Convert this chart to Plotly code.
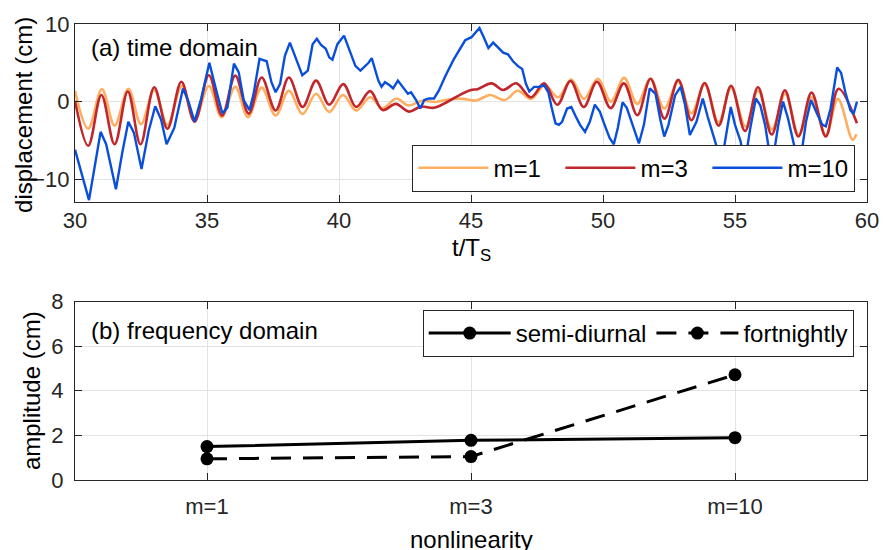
import plotly.graph_objects as go

# ---------------- data: (a) time domain ----------------
t_m1 = [30.0, 30.5, 31.02, 31.5, 32.02, 32.5, 33.0, 33.5, 34.05, 34.52, 35.07, 35.55, 36.07,
        36.55, 37.07, 37.6, 38.1, 38.62, 39.13, 39.63, 40.15, 40.65, 41.18, 41.65, 42.17,
        42.63, 43.15, 43.65, 44.2, 44.7, 45.2, 45.72, 46.28, 46.77, 47.27, 47.8, 48.3, 48.8,
        49.28, 49.8, 50.3, 50.8, 51.3, 51.8, 52.32, 52.85, 53.35, 53.85, 54.38, 54.85, 55.4,
        55.87, 56.4, 56.9, 57.42, 57.9, 58.44, 58.9, 59.45, 59.6]
v_m1 = [1.4, -3.5, 1.6, -3.1, 1.65, -2.9, 1.5, -3.0, 2.0, -2.4, 2.0, -2.0, 1.9,
        -2.0, 1.8, -1.8, 1.4, -1.6, 1.0, -1.35, 0.85, -1.15, 0.55, -0.85, 0.4,
        -0.5, 0.1, -0.05, 0.3, 0.35, 0.15, 0.85, 0.2, 1.4, 0.35, 2.1, 0.55, 2.85,
        0.35, 2.95, 0.0, 3.05, -0.3, 2.95, -0.9, 2.6, -1.5, 2.2, -2.7, 1.8, -3.2,
        1.4, -3.6, 1.0, -4.3, 0.55, -4.3, 0.35, -4.9, -4.2]

t_m3 = [30.0, 30.5, 31.0, 31.5, 32.0, 32.48, 33.0, 33.5, 34.03, 34.53, 35.07, 35.57, 36.07,
        36.58, 37.07, 37.6, 38.1, 38.62, 39.13, 39.63, 40.16, 40.65, 41.18, 41.65, 42.15,
        42.65, 43.1, 43.6, 44.1, 44.6, 45.0, 45.25, 45.78, 46.22, 46.72, 47.27, 47.77, 48.27,
        48.77, 49.27, 49.77, 50.29, 50.79, 51.3, 51.8, 52.33, 52.85, 53.35, 53.85, 54.38,
        54.85, 55.38, 55.87, 56.39, 56.89, 57.4, 57.9, 58.44, 58.92, 59.62]
v_m3 = [0.1, -5.7, 0.85, -5.5, 1.3, -5.5, 1.85, -3.5, 2.55, -2.6, 3.4, -1.8, 3.35,
        -1.55, 3.1, -1.15, 3.1, -0.7, 2.7, -0.4, 2.25, -0.7, 1.35, -1.1, -0.3,
        -1.3, -0.65, -0.8, -0.05, 0.9, 1.5, 1.6, 2.35, 1.5, 2.35, 0.55, 2.35, -0.4,
        2.65, -0.7, 2.55, -0.85, 2.35, -1.75, 2.95, -2.2, 2.8, -2.4, 2.4, -3.1,
        2.05, -3.8, 1.85, -4.25, 1.45, -4.5, 1.15, -4.5, 1.65, -2.8]

t_m10 = [30.0, 30.25, 30.53, 30.74, 30.97, 31.18, 31.55, 31.8, 32.02, 32.23, 32.52, 32.79,
         33.04, 33.26, 33.47, 33.76, 34.09, 34.3, 34.53, 34.78, 35.09, 35.33, 35.58, 35.77,
         36.02, 36.2, 36.39, 36.61, 36.76, 36.99, 37.26, 37.44, 37.6, 37.77, 37.95, 38.14,
         38.26, 38.45, 38.61, 38.82, 39.0, 39.16, 39.32, 39.5, 39.63, 39.75, 39.94, 40.19,
         40.31, 40.43, 40.62, 40.81, 40.99, 41.12, 41.24, 41.36, 41.49, 41.61, 41.74, 41.92,
         42.05, 42.23, 42.42, 42.61, 42.73, 42.92, 43.08, 43.23, 43.41, 43.6, 43.78, 44.03,
         44.34, 44.59, 44.78, 45.02, 45.16, 45.32, 45.47, 45.66, 45.84, 46.03, 46.22, 46.4,
         46.59, 46.77, 46.94, 47.08, 47.21, 47.39, 47.58, 47.77, 47.93, 48.05, 48.2, 48.33,
         48.45, 48.64, 48.8, 48.95, 49.13, 49.32, 49.5, 49.69, 49.88, 50.06, 50.25, 50.41,
         50.56, 50.74, 50.9, 51.12, 51.36, 51.55, 51.77, 51.99, 52.17, 52.32, 52.48, 52.73,
         52.94, 53.1, 53.29, 53.54, 53.78, 53.97, 54.16, 54.34, 54.45, 54.59, 54.84, 55.0,
         55.21, 55.37, 55.58, 55.79, 55.96, 56.14, 56.39, 56.64, 56.82, 57.01, 57.23, 57.44,
         57.69, 57.88, 58.1, 58.31, 58.44, 58.62, 58.81, 58.87, 59.02, 59.18, 59.37, 59.49,
         59.62]
v_m10 = [-6.2, -9.4, -12.7, -8.5, -3.9, -5.5, -11.3, -6.4, -2.6, -4.0, -8.7, -3.8,
         -0.6, -2.3, -5.5, -3.4, 1.7, 0.0, -2.6, 0.4, 5.0, 1.7, -1.5, -0.8,
         4.9, 3.8, 0.2, -1.1, 0.9, 5.5, 5.2, 2.5, 1.2, 2.3, 5.9, 7.6,
         6.5, 5.0, 3.4, 4.0, 7.4, 8.1, 7.3, 6.8, 5.7, 5.4, 7.4, 8.5,
         7.4, 6.3, 4.6, 4.0, 4.6, 5.0, 5.6, 4.2, 2.7, 1.9, 2.5, 2.1,
         1.7, 2.7, 1.9, 1.0, 1.2, 0.2, -0.9, 0.2, 0.4, 0.4, 1.4, 3.3,
         5.4, 6.9, 7.9, 8.3, 8.8, 9.5, 8.4, 6.9, 7.6, 6.9, 6.3, 6.1,
         5.2, 4.6, 4.2, 2.3, 1.3, 1.9, 1.9, 2.1, 1.2, -0.7, -2.8, -3.0,
         -2.6, -0.9, -0.7, -1.8, -3.0, -3.9, -2.6, -0.4, -1.3, -3.0, -4.7, -5.5,
         -3.4, -0.1, -0.8, -3.0, -5.4, -3.0, 1.7, 1.0, -2.3, -4.5, -3.0, 0.8,
         1.9, -0.3, -4.3, -2.6, 0.4, -2.0, -4.1, -6.2, -7.0, -5.8, -0.7, -3.0,
         -5.1, -8.0, -3.4, 0.4, -0.5, -3.0, -8.5, -3.0, 0.0, -2.2, -5.5, -8.5,
         -2.6, 0.2, -1.5, -3.0, -3.2, -0.9, 3.1, 4.4, 3.7, 1.2, -1.1, -1.6,
         0.0]

time_ticks = [30, 35, 40, 45, 50, 55, 60]
disp_ticks = [-10, 0, 10]

# ---------------- data: (b) frequency domain ----------------
categories = ["m=1", "m=3", "m=10"]
semi_diurnal = [1.5, 1.78, 1.9]
fortnightly = [0.95, 1.05, 4.72]
amp_ticks = [0, 2, 4, 6, 8]

# ---------------- styling ----------------
FONT = "Liberation Sans, Arial, Helvetica, sans-serif"
AX = "#262626"
GRID = "#e3e3e3"
C1, C3, C10 = "#FDAE61", "#C0262B", "#0A4FDC"

fig = go.Figure()
fig.add_trace(go.Scatter(x=t_m1, y=v_m1, mode="lines", name="m=1",
                         line=dict(color=C1, width=2.6, shape="spline", smoothing=1.0),
                         xaxis="x", yaxis="y", legend="legend"))
fig.add_trace(go.Scatter(x=t_m3, y=v_m3, mode="lines", name="m=3",
                         line=dict(color=C3, width=2.6, shape="spline", smoothing=1.0),
                         xaxis="x", yaxis="y", legend="legend"))
fig.add_trace(go.Scatter(x=t_m10, y=v_m10, mode="lines", name="m=10",
                         line=dict(color=C10, width=2.4),
                         xaxis="x", yaxis="y", legend="legend"))

fig.add_trace(go.Scatter(x=categories, y=semi_diurnal, mode="lines+markers", name="semi-diurnal",
                         line=dict(color="black", width=3),
                         marker=dict(color="black", size=13),
                         xaxis="x2", yaxis="y2", legend="legend2"))
fig.add_trace(go.Scatter(x=categories, y=fortnightly, mode="lines+markers", name="fortnightly",
                         line=dict(color="black", width=3, dash="20px,12px"),
                         marker=dict(color="black", size=13),
                         xaxis="x2", yaxis="y2", legend="legend2"))

axis_common = dict(showline=True, linecolor=AX, linewidth=1, mirror="ticks",
                   ticks="inside", ticklen=7, tickwidth=1, tickcolor=AX,
                   showgrid=True, gridcolor=GRID, gridwidth=1, zeroline=False,
                   tickfont=dict(family=FONT, size=22, color=AX))

fig.update_layout(
    width=891, height=550,
    margin=dict(l=75, r=12, t=20, b=70),
    paper_bgcolor="white", plot_bgcolor="white",
    font=dict(family=FONT, size=22, color=AX),
    xaxis=dict(domain=[0, 1], range=[30, 60], tickvals=time_ticks, anchor="y",
               ticklabelstandoff=-2, **axis_common),
    yaxis=dict(domain=[0.6087, 1.0], range=[-13, 10], tickvals=disp_ticks, anchor="x",
               ticklabelstandoff=0, **axis_common),
    xaxis2=dict(domain=[0, 1], type="category", range=[-0.5, 2.5], anchor="y2",
                ticklabelstandoff=7, **axis_common),
    yaxis2=dict(domain=[0, 0.3913], range=[0, 8], tickvals=amp_ticks, anchor="x2",
                ticklabelstandoff=6, **axis_common),
    legend=dict(orientation="h", x=0.426, y=0.7355, xanchor="left", yanchor="top",
                bgcolor="white", bordercolor=AX, borderwidth=1, itemwidth=70,
                entrywidth=62, entrywidthmode="pixels",
                font=dict(family=FONT, size=24, color="black")),
    legend2=dict(orientation="h", x=0.439, y=0.3728, xanchor="left", yanchor="top",
                 bgcolor="white", bordercolor=AX, borderwidth=1, itemwidth=82,
                 font=dict(family=FONT, size=24, color="black")),
    showlegend=True,
)

ann_font = dict(family=FONT, size=24, color="black")
fig.add_annotation(text="(a) time domain", xref="paper", yref="paper", x=0.018, y=0.948,
                   xanchor="left", yanchor="middle", showarrow=False, font=ann_font)
fig.add_annotation(text="(b) frequency domain", xref="paper", yref="paper", x=0.018, y=0.328,
                   xanchor="left", yanchor="middle", showarrow=False, font=ann_font)
fig.add_annotation(text="t/T<sub>S</sub>", xref="paper", yref="paper", x=0.5, y=0.505,
                   xanchor="center", yanchor="middle", showarrow=False, font=ann_font)
fig.add_annotation(text="nonlinearity", xref="paper", yref="paper", x=0.5, y=-0.13,
                   xanchor="center", yanchor="middle", showarrow=False, font=ann_font)
fig.add_annotation(text="displacement (cm)", xref="paper", yref="paper", x=-0.066, y=0.80,
                   xanchor="center", yanchor="middle", textangle=-90, showarrow=False, font=ann_font)
fig.add_annotation(text="amplitude (cm)", xref="paper", yref="paper", x=-0.055, y=0.196,
                   xanchor="center", yanchor="middle", textangle=-90, showarrow=False, font=ann_font)

fig.write_html("out.html", config={"displayModeBar": False},
               post_script="document.body.style.margin='0px';")
